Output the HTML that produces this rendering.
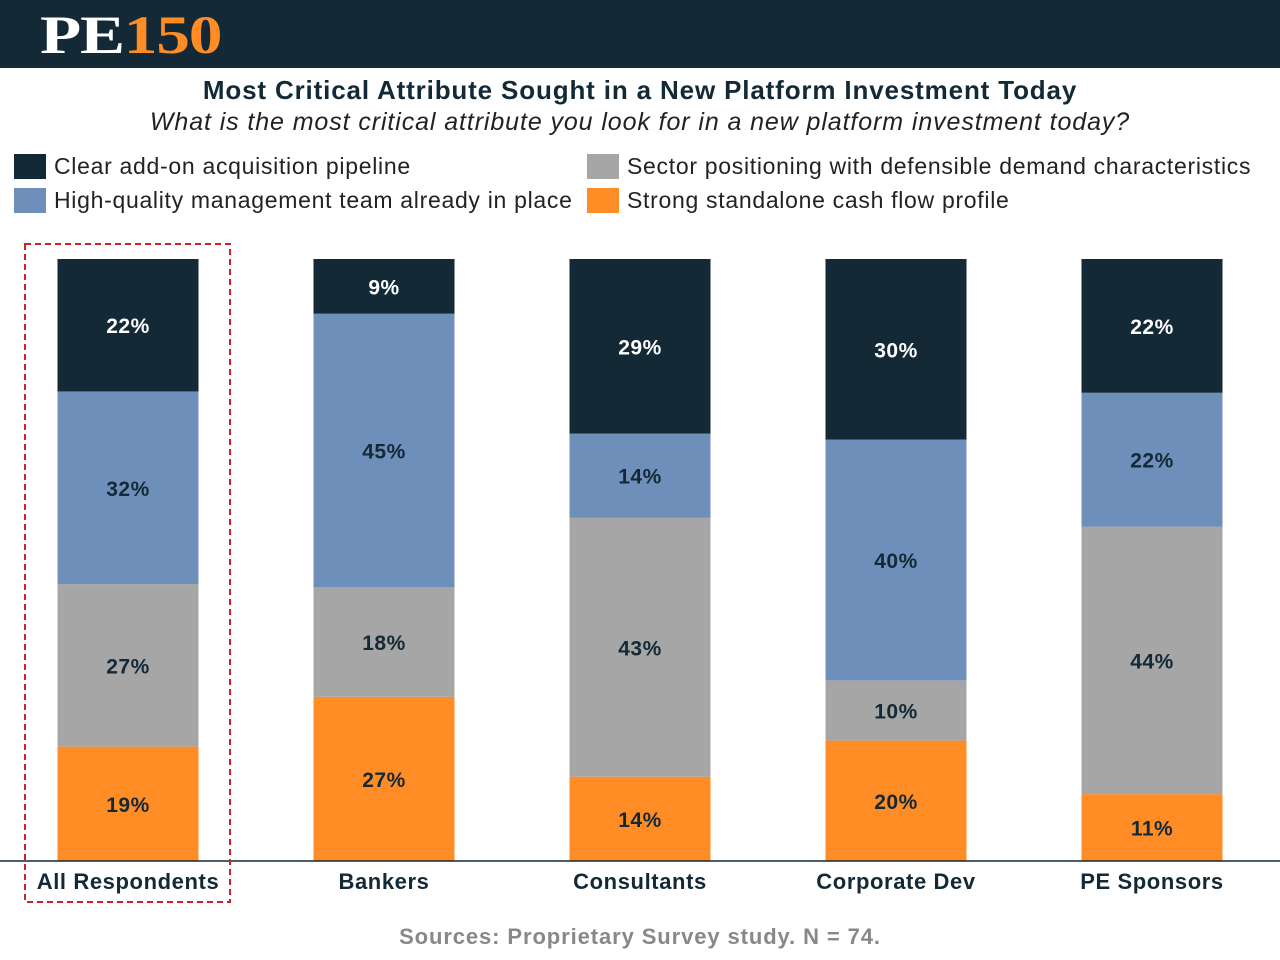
<!DOCTYPE html>
<html><head><meta charset="utf-8">
<style>
body{margin:0;width:1280px;height:960px;background:#fff;font-family:"Liberation Sans",sans-serif;overflow:hidden;position:relative}
.hdr{position:absolute;left:0;top:0;width:1280px;height:68px;background:#132a36}
.logo{position:absolute;left:40px;top:4px;font-family:"Liberation Serif",serif;font-weight:bold;font-size:54px;letter-spacing:-1px;transform:scaleX(1.25);transform-origin:left center}
.t1{position:absolute;top:75px;width:1280px;text-align:center;font-weight:bold;font-size:26px;letter-spacing:0.85px;color:#132a36}
.t2{position:absolute;top:108px;width:1280px;text-align:center;font-style:italic;font-size:25px;letter-spacing:0.9px;color:#222}
.lg{position:absolute;font-size:23px;letter-spacing:0.7px;color:#222;display:flex;align-items:center}
.sw{width:32px;height:25px;margin-right:8px}
.src{position:absolute;top:924px;width:1280px;text-align:center;font-weight:bold;font-size:22px;letter-spacing:0.9px;color:#888}
</style></head><body>
<div class="hdr"></div>
<div class="logo"><span style="color:#fff">PE</span><span style="color:#ff8c25">150</span></div>
<div class="t1">Most Critical Attribute Sought in a New Platform Investment Today</div>
<div class="t2">What is the most critical attribute you look for in a new platform investment today?</div>
<div class="lg" style="left:14px;top:153px"><div class="sw" style="background:#132a36"></div>Clear add-on acquisition pipeline</div>
<div class="lg" style="left:14px;top:187px"><div class="sw" style="background:#6f8fbb"></div>High-quality management team already in place</div>
<div class="lg" style="left:587px;top:153px"><div class="sw" style="background:#a6a6a6"></div>Sector positioning with defensible demand characteristics</div>
<div class="lg" style="left:587px;top:187px"><div class="sw" style="background:#ff8c25"></div>Strong standalone cash flow profile</div>
<svg id="chart" width="1280" height="960" style="position:absolute;left:0;top:0"></svg>
<div class="src">Sources: Proprietary Survey study. N = 74.</div>
<script>
const categories=["All Respondents","Bankers","Consultants","Corporate Dev","PE Sponsors"];
const cashflow=[19,27,14,20,11];
const sector=[27,18,43,10,44];
const management=[32,45,14,40,22];
const pipeline=[22,9,29,30,22];
const series=[cashflow,sector,management,pipeline];
const colors=["#ff8c25","#a6a6a6","#6f8fbb","#132a36"];
const textColors=["#132a36","#132a36","#132a36","#ffffff"];
const names=["cashflow","sector","management","pipeline"];
const svg=document.getElementById('chart');
const NS="http://www.w3.org/2000/svg";
const base=861,top0=259,H=base-top0,bw=141;
const xc=i=>128+i*256;
function mk(t,a){const e=document.createElementNS(NS,t);for(const k in a)e.setAttribute(k,a[k]);svg.appendChild(e);return e;}
categories.forEach((c,i)=>{
  const tot=series.reduce((s,a)=>s+a[i],0);
  let y=base;
  series.forEach((a,j)=>{
    const h=a[i]/tot*H;
    const r=mk('rect',{x:xc(i)-bw/2,y:y-h,width:bw,height:h,fill:colors[j]});
    
    
    const t=mk('text',{x:xc(i),y:y-h/2+8,'text-anchor':'middle','font-size':21,'font-weight':'bold','letter-spacing':0.5,fill:textColors[j],'font-family':'Liberation Sans, sans-serif'});
    t.textContent=a[i]+'%';
    
    
    y-=h;
  });
  const l=mk('text',{x:xc(i),y:889,'text-anchor':'middle','font-size':22,'font-weight':'bold','letter-spacing':0.6,fill:'#132a36','font-family':'Liberation Sans, sans-serif'});
  l.textContent=c;
  
  
});
const ax=mk('line',{x1:0,x2:1280,y1:861,y2:861,stroke:'#132a36','stroke-width':1.5});


const hl=mk('rect',{x:25,y:244,width:205,height:658,fill:'none',stroke:'#d0202a','stroke-width':2,'stroke-dasharray':'6,4'});


</script>
</body></html>
